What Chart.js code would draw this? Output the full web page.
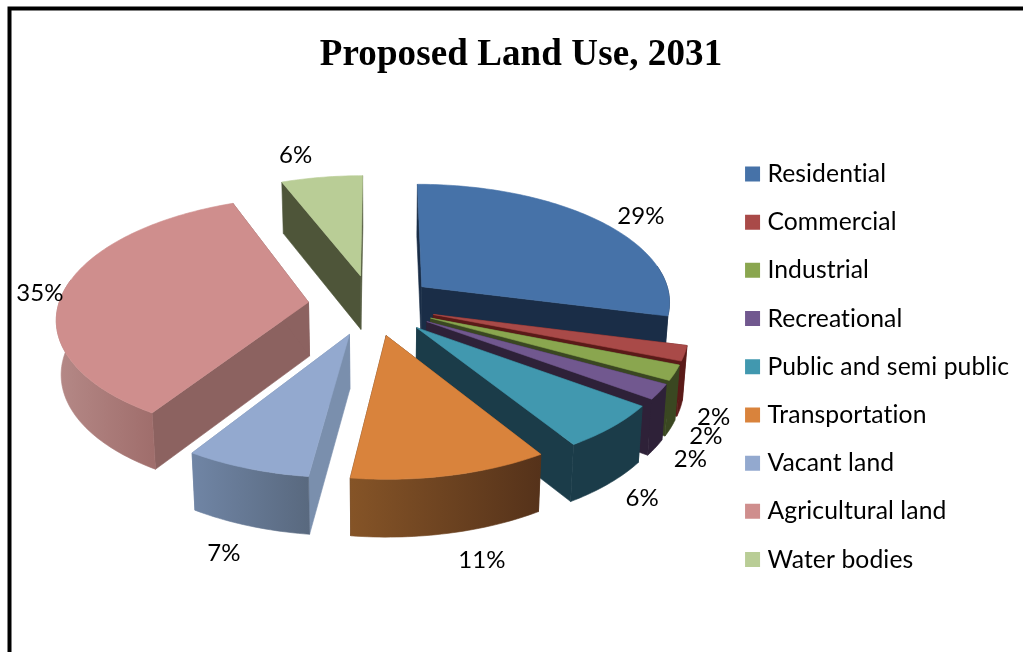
<!DOCTYPE html>
<html>
<head>
<meta charset="utf-8">
<title>Proposed Land Use, 2031</title>
<script src="https://cdn.jsdelivr.net/npm/chart.js@4"></script>
<style>
  html, body { margin: 0; background: #fff; }
  canvas { display: block; }
</style>
</head>
<body>
<canvas id="landUse" width="1023" height="652"></canvas>
<script>
const categories = ['Residential', 'Commercial', 'Industrial', 'Recreational', 'Public and semi public',
  'Transportation', 'Vacant land', 'Agricultural land', 'Water bodies'];
const shares = [29, 2, 2, 2, 6, 11, 7, 35, 6];

const topColors = ['#4672A8', '#A94A48', '#8AA64F', '#71588F', '#4198AF', '#D9833C', '#93A9CF', '#CF8E8D', '#B9CD96'];
const wallLeft = ['#1A2D47', '#5A1A18', '#3A4721', '#2E2138', '#1B3C49', '#855427', '#7085A5', '#B58987', '#4E5539'];
const wallRight = ['#1A2D47', '#5A1A18', '#3A4721', '#2E2138', '#1B3C49', '#55321A', '#59697F', '#A06E6C', '#4E5539'];
const cutColors = ['#1A2D47', '#5A1A18', '#3A4721', '#2E2138', '#1B3C49', '#55321A', '#7A8FAD', '#8C6260', '#4E5539'];

// pixel shift of each percentage from the rim point of its slice
const labelShift = [[41, -5], [29, 64], [31, 63], [31, 67], [30, 71], [31, 85], [-23, 85], [-24, 2], [-26, -22]];

// camera used to lay the pie on its side
const view = { x: 372, y: 305, vanishX: 380, depth: 2100, tilt: 0.4748, baseScale: 0.985 };

function project(px, py) {
  const s = view.depth / (view.depth - py);
  return { x: view.vanishX + (view.x - view.vanishX + px) * s, y: view.y + view.tilt * py * s, s: s };
}

// bottom edge of the wall under a projected point
function drop(p) {
  return { x: view.vanishX + (p.x - view.vanishX) * view.baseScale, y: p.y + 54 + 22 * (p.s - 1) };
}

function fillPath(ctx, points, fill) {
  ctx.beginPath();
  points.forEach((p, i) => i ? ctx.lineTo(p.x, p.y) : ctx.moveTo(p.x, p.y));
  ctx.closePath();
  ctx.fillStyle = fill;
  ctx.fill();
  // hairline in the same paint closes the seams between neighbouring faces
  ctx.strokeStyle = fill;
  ctx.lineWidth = 0.6;
  ctx.stroke();
}

function drawSlice(ctx, arc, i) {
  const mid = (arc.startAngle + arc.endAngle) / 2;
  const off = arc.options.offset;
  const ox = Math.cos(mid) * off;
  const oy = Math.sin(mid) * off;
  const apex = project(ox, oy);
  const steps = Math.max(2, Math.ceil((arc.endAngle - arc.startAngle) / 0.02));
  const rim = [];
  const angles = [];
  for (let k = 0; k <= steps; k++) {
    const a = arc.startAngle + (arc.endAngle - arc.startAngle) * k / steps;
    angles.push(a);
    rim.push(project(ox + Math.cos(a) * arc.outerRadius, oy + Math.sin(a) * arc.outerRadius));
  }
  const first = rim[0];
  const last = rim[rim.length - 1];

  // the two cut faces
  fillPath(ctx, [apex, first, drop(first), drop(apex)], cutColors[i]);
  fillPath(ctx, [apex, last, drop(last), drop(apex)], cutColors[i]);

  // curved wall, only the part turned towards the viewer
  const front = rim.filter((p, k) => Math.sin(angles[k]) > -0.2);
  if (front.length > 1) {
    const xs = front.map(p => p.x);
    const grad = ctx.createLinearGradient(Math.min(...xs), 0, Math.max(...xs), 0);
    grad.addColorStop(0, wallLeft[i]);
    grad.addColorStop(1, wallRight[i]);
    fillPath(ctx, front.concat(front.map(drop).reverse()), grad);
  }

  fillPath(ctx, [apex].concat(rim), arc.options.backgroundColor);
}

const pie3d = {
  id: 'pie3d',
  beforeDraw(chart) {
    const ctx = chart.ctx;
    // any spacing at all switches off the "ti" ligature in the legend text
    ctx.letterSpacing = '0.1px';
    ctx.save();
    ctx.strokeStyle = '#000';
    ctx.lineWidth = 4;
    ctx.beginPath();
    ctx.moveTo(9.5, 652);
    ctx.lineTo(9.5, 8.5);
    ctx.lineTo(1023, 8.5);
    ctx.stroke();
    ctx.restore();
  },
  // the slices are painted here, back to front, from the arcs the controller computed
  beforeDatasetDraw(chart, args) {
    const ctx = chart.ctx;
    const arcs = args.meta.data;
    const depth = arc => Math.sin((arc.startAngle + arc.endAngle) / 2);
    const order = arcs.map((arc, i) => i).sort((a, b) => depth(arcs[a]) - depth(arcs[b]));
    ctx.save();
    order.forEach(i => drawSlice(ctx, arcs[i], i));
    ctx.restore();
    return false;
  },
  afterDraw(chart) {
    const ctx = chart.ctx;
    ctx.save();
    ctx.fillStyle = '#000';
    ctx.font = '24px Lato';
    ctx.textAlign = 'center';
    ctx.textBaseline = 'middle';
    chart.getDatasetMeta(0).data.forEach((arc, i) => {
      const mid = (arc.startAngle + arc.endAngle) / 2;
      const r = arc.outerRadius + arc.options.offset;
      const p = project(Math.cos(mid) * r, Math.sin(mid) * r);
      ctx.fillText(shares[i] + '%', p.x + labelShift[i][0], p.y + labelShift[i][1]);
    });
    ctx.restore();
  }
};

new Chart(document.getElementById('landUse'), {
  type: 'pie',
  data: {
    labels: categories,
    datasets: [{
      data: shares,
      backgroundColor: topColors,
      offset: 64
    }]
  },
  options: {
    responsive: false,
    animation: false,
    events: [],
    radius: 250,
    layout: { padding: { left: 25, right: 6, bottom: 56.6 } },
    plugins: {
      tooltip: { enabled: false },
      title: {
        display: true,
        text: 'Proposed Land Use, 2031',
        color: '#000',
        font: { family: '"Liberation Serif"', size: 37, weight: 'bold' },
        padding: { top: 33, bottom: 6 }
      },
      legend: {
        position: 'right',
        align: 'end',
        labels: {
          color: '#000',
          font: { family: 'Lato', size: 24.7 },
          padding: 23.5,
          boxWidth: 5,
          boxHeight: 5,
          // a thick outline makes the swatch sit closer to its text
          generateLabels: chart => categories.map((name, i) => ({
            text: name,
            fillStyle: topColors[i],
            strokeStyle: topColors[i],
            lineWidth: 10,
            index: i
          }))
        }
      }
    }
  },
  plugins: [pie3d]
});
</script>
</body>
</html>
